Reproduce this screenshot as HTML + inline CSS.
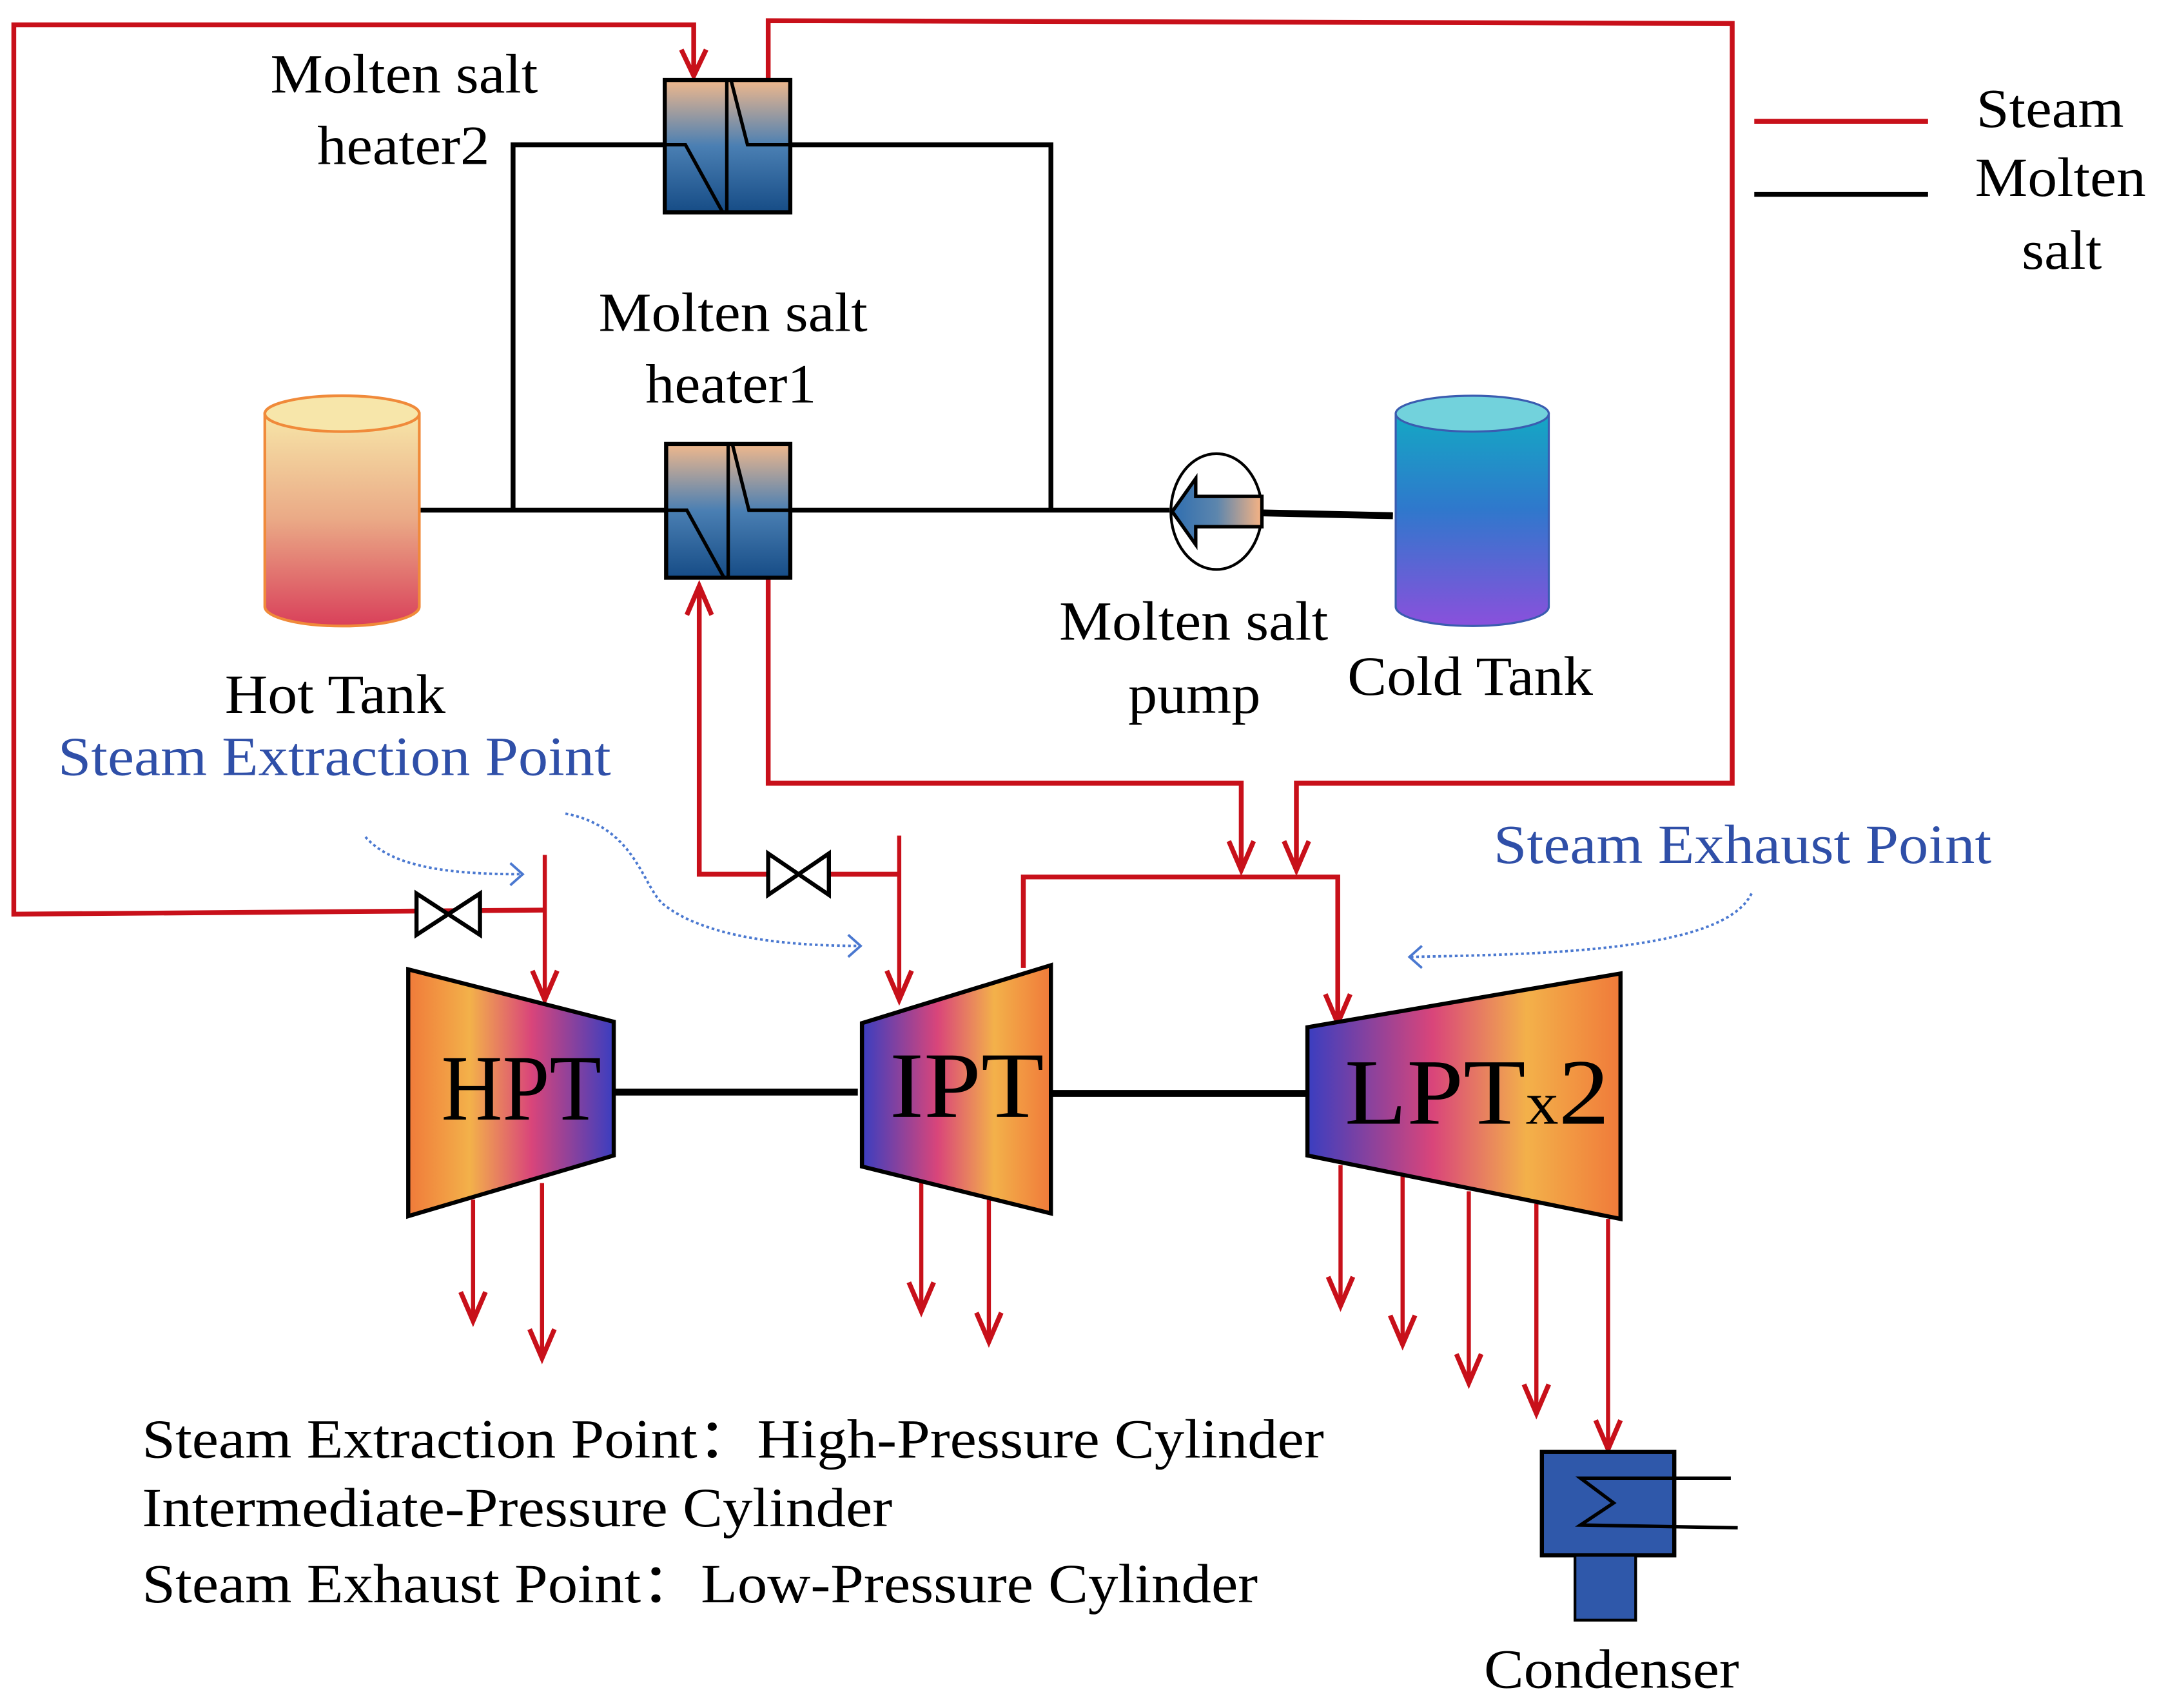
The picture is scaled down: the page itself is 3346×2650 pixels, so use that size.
<!DOCTYPE html>
<html><head><meta charset="utf-8"><style>html,body{margin:0;padding:0;background:#fff}svg{display:block}</style></head><body>
<svg width="3346" height="2650" viewBox="0 0 1564 1238.7" xmlns="http://www.w3.org/2000/svg" font-family="Liberation Serif, serif">
<defs>
<linearGradient id="hx" x1="0" y1="0" x2="0" y2="1"><stop offset="0" stop-color="#f0b88c"/><stop offset="0.5" stop-color="#4a7fb3"/><stop offset="1" stop-color="#164c86"/></linearGradient>
<linearGradient id="hot" x1="0" y1="0" x2="0" y2="1"><stop offset="0" stop-color="#f7e6a8"/><stop offset="0.5" stop-color="#eaa986"/><stop offset="1" stop-color="#d9405a"/></linearGradient>
<linearGradient id="cold" x1="0" y1="0" x2="0" y2="1"><stop offset="0" stop-color="#14a8c4"/><stop offset="0.45" stop-color="#2f78cc"/><stop offset="1" stop-color="#8a50dc"/></linearGradient>
<linearGradient id="pump" x1="0" y1="0" x2="1" y2="0"><stop offset="0" stop-color="#2f6eb0"/><stop offset="0.5" stop-color="#5d86ad"/><stop offset="1" stop-color="#f8b383"/></linearGradient>
<linearGradient id="tR" x1="0" y1="0" x2="1" y2="0"><stop offset="0" stop-color="#f07a3a"/><stop offset="0.3" stop-color="#f3b14a"/><stop offset="0.6" stop-color="#d9457a"/><stop offset="1" stop-color="#3a3ec0"/></linearGradient>
<linearGradient id="tL" x1="1" y1="0" x2="0" y2="0"><stop offset="0" stop-color="#f07a3a"/><stop offset="0.3" stop-color="#f3b14a"/><stop offset="0.6" stop-color="#d9457a"/><stop offset="1" stop-color="#3a3ec0"/></linearGradient>
</defs>
<g fill="none" stroke="#c8101a" stroke-width="3.5">
<path d="M395,660 L10,663 L10,18 L503,18 L503,54"/>
<path d="M557,57 L557,15 L1256,17 L1256,568 L940,568 L940,630"/>
<path d="M557,419 L557,568 L900,568 L900,630"/>
<path d="M652,634 L507,634 L507,426"/>
<path d="M395,620 L395,724" stroke-width="3"/>
<path d="M652,606 L652,724" stroke-width="3"/>
<path d="M742,702 L742,636 L970,636 L970,741"/>
<g stroke-width="3">
<path d="M343,870 L343,957"/>
<path d="M393,858 L393,984"/>
<path d="M668,858 L668,950"/>
<path d="M717,862 L717,972"/>
<path d="M972,845 L972,946"/>
<path d="M1017,853 L1017,974"/>
<path d="M1065,864 L1065,1002"/>
<path d="M1114,873 L1114,1024"/>
<path d="M1166,884 L1166,1050"/>
</g>
<g stroke-width="3.5" stroke-linejoin="miter">
<path d="M494,36 L503,55 L512,36"/>
<path d="M931,610 L940,631 L949,610"/>
<path d="M891,610 L900,631 L909,610"/>
<path d="M498,446 L507,425 L516,446"/>
<path d="M386,704 L395,725 L404,704"/>
<path d="M643,704 L652,725 L661,704"/>
<path d="M961,721 L970,742 L979,721"/>
<path d="M334,937 L343,958 L352,937"/>
<path d="M384,964 L393,985 L402,964"/>
<path d="M659,930 L668,951 L677,930"/>
<path d="M708,952 L717,973 L726,952"/>
<path d="M963,926 L972,947 L981,926"/>
<path d="M1008,954 L1017,975 L1026,954"/>
<path d="M1056,982 L1065,1003 L1074,982"/>
<path d="M1105,1004 L1114,1025 L1123,1004"/>
<path d="M1157,1030 L1166,1051 L1175,1030"/>
</g>
<line x1="1272" y1="88" x2="1398" y2="88"/>
</g>
<g stroke="#000" stroke-width="3" fill="#fff">
<path d="M302,648 L348,678 L348,648 L302,678 Z"/>
<path d="M557,619 L601,649 L601,619 L557,649 Z"/>
</g>
<g fill="none" stroke="#000" stroke-width="3.5">
<path d="M305,370 L848,370"/>
<path d="M372,370 L372,105 L481,105"/>
<path d="M573,105 L762,105 L762,370"/>
<path d="M916,372 L1010,374" stroke-width="5"/>
<path d="M445,792 L622,792" stroke-width="5"/>
<path d="M762,793 L948,793" stroke-width="5"/>
<line x1="1272" y1="141" x2="1398" y2="141"/>
</g>
<g stroke="#000" stroke-width="3">
<rect x="482" y="58" width="91" height="96" fill="url(#hx)"/>
<path d="M482,105 L497,105 L524,154 M527,58 L527,154 M530,58 L542,105 L573,105" fill="none" stroke-width="2.5"/>
<rect x="483" y="322" width="90" height="97" fill="url(#hx)"/>
<path d="M483,370 L498,370 L525,419 M528,322 L528,419 M531,322 L543,370 L573,370" fill="none" stroke-width="2.5"/>
</g>
<path d="M192,300 L192,440 A56,14 0 0 0 304,440 L304,300 Z" fill="url(#hot)" stroke="#f08a3a" stroke-width="2"/>
<ellipse cx="248" cy="300" rx="56" ry="13" fill="#f7e6aa" stroke="#f08a3a" stroke-width="2"/>
<path d="M1012,300 L1012,440 A55.5,14 0 0 0 1123,440 L1123,300 Z" fill="url(#cold)" stroke="#3a5cb0" stroke-width="1.5"/>
<ellipse cx="1067.5" cy="300" rx="55.5" ry="13" fill="#72d2dc" stroke="#3a5cb0" stroke-width="1.5"/>
<ellipse cx="882" cy="371" rx="33" ry="42" fill="#fff" stroke="#000" stroke-width="2"/>
<path d="M850,371 L867,347 L867,360 L915,360 L915,382 L867,382 L867,395 Z" fill="url(#pump)" stroke="#000" stroke-width="2.5"/>
<g stroke="#000" stroke-width="3">
<path d="M296,703 L445,741 L445,838 L296,882 Z" fill="url(#tR)"/>
<path d="M625,742 L762,700 L762,880 L625,846 Z" fill="url(#tL)"/>
<path d="M948,745 L1175,706 L1175,884 L948,838 Z" fill="url(#tL)"/>
</g>
<rect x="1118" y="1053" width="96" height="75" fill="#2f58aa" stroke="#000" stroke-width="3"/>
<rect x="1142" y="1128" width="44" height="47" fill="#2f58aa" stroke="#000" stroke-width="2"/>
<path d="M1255,1072 L1146,1072 L1170,1090 L1146,1106 L1260,1108" fill="none" stroke="#000" stroke-width="2.5"/>
<g fill="none" stroke="#4a78d0" stroke-width="1.8">
<path d="M265,607 C285,630 330,634 378,634" stroke-dasharray="2,2"/>
<path d="M410,590 C460,600 465,640 480,655 C510,680 570,686 624,686" stroke-dasharray="2,2"/>
<path d="M1270,648 C1250,690 1120,692 1022,694" stroke-dasharray="2,2"/>
<path d="M370,626 L379,634 L370,642"/>
<path d="M615,678 L624,686 L615,694"/>
<path d="M1031,686 L1022,694 L1031,702"/>
</g>
<g font-size="40" fill="#000">
<text x="196" y="67" textLength="194" lengthAdjust="spacingAndGlyphs">Molten salt</text>
<text x="230" y="119" textLength="125" lengthAdjust="spacingAndGlyphs">heater2</text>
<text x="434" y="240" textLength="195" lengthAdjust="spacingAndGlyphs">Molten salt</text>
<text x="468" y="292" textLength="124" lengthAdjust="spacingAndGlyphs">heater1</text>
<text x="163" y="517" textLength="160" lengthAdjust="spacingAndGlyphs">Hot Tank</text>
<text x="768" y="464" textLength="195" lengthAdjust="spacingAndGlyphs">Molten salt</text>
<text x="818" y="517" textLength="96" lengthAdjust="spacingAndGlyphs">pump</text>
<text x="977" y="504" textLength="178" lengthAdjust="spacingAndGlyphs">Cold Tank</text>
<text x="1433" y="92" textLength="107" lengthAdjust="spacingAndGlyphs">Steam</text>
<text x="1432" y="142" textLength="124" lengthAdjust="spacingAndGlyphs">Molten</text>
<text x="1466" y="195" textLength="58" lengthAdjust="spacingAndGlyphs">salt</text>
<text x="1076" y="1224" textLength="185" lengthAdjust="spacingAndGlyphs">Condenser</text>
<text x="42" y="562" fill="#2f4fa8" textLength="401" lengthAdjust="spacingAndGlyphs">Steam Extraction Point</text>
<text x="1083" y="626" fill="#2f4fa8" textLength="361" lengthAdjust="spacingAndGlyphs">Steam Exhaust Point</text>
<text x="103" y="1057" textLength="857" lengthAdjust="spacingAndGlyphs">Steam Extraction Point：High-Pressure Cylinder</text>
<text x="103" y="1107" textLength="544" lengthAdjust="spacingAndGlyphs">Intermediate-Pressure Cylinder</text>
<text x="103" y="1162" textLength="809" lengthAdjust="spacingAndGlyphs">Steam Exhaust Point：Low-Pressure Cylinder</text>
</g>
<g font-size="68" fill="#000">
<text x="320" y="812" textLength="116" lengthAdjust="spacingAndGlyphs">HPT</text>
<text x="645" y="810" textLength="112" lengthAdjust="spacingAndGlyphs">IPT</text>
<text x="975" y="815" textLength="192" lengthAdjust="spacingAndGlyphs">LPT<tspan font-size="44">x</tspan>2</text>
</g>
</svg>
</body></html>
